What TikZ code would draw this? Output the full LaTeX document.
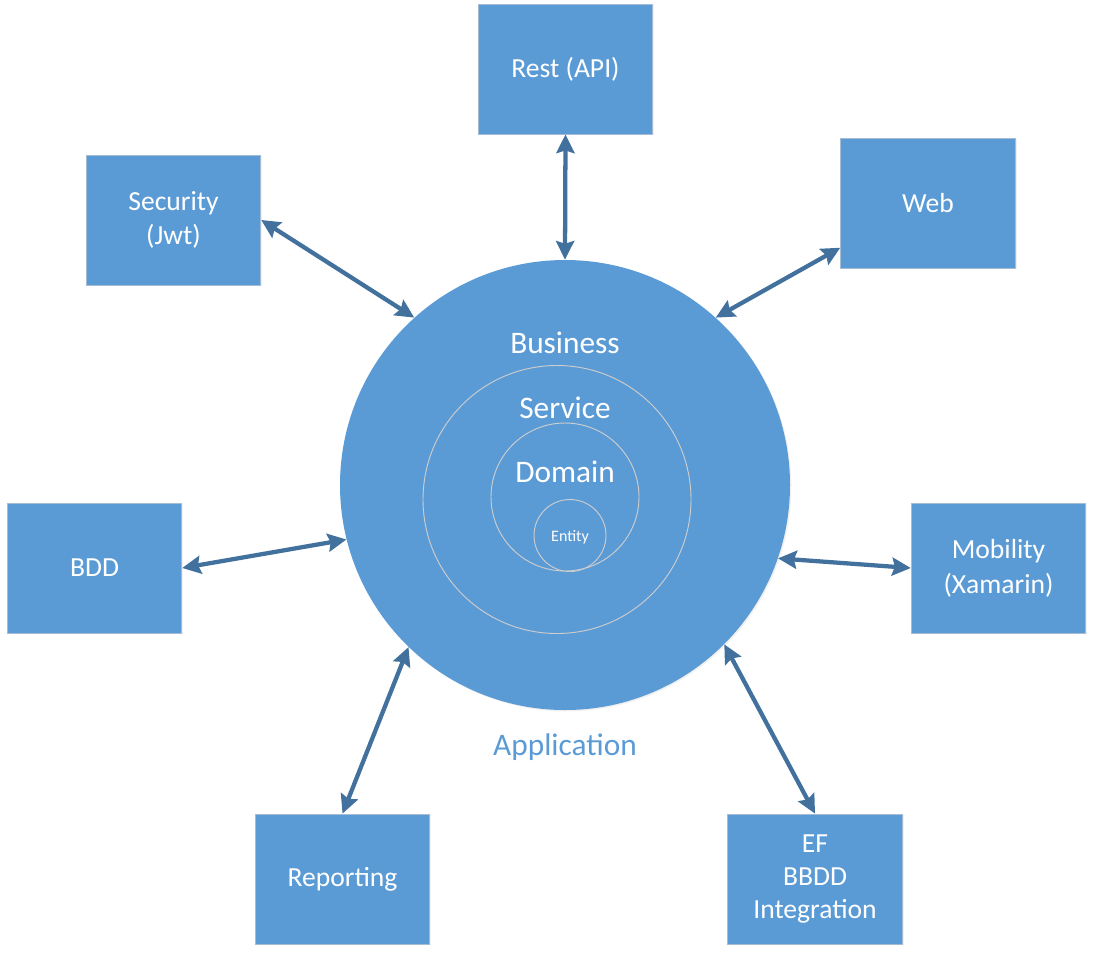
\documentclass[tikz,border=0pt]{standalone}
\usepackage{fontspec}
\setmainfont{Carlito}
\definecolor{boxblue}{RGB}{91,155,213}
\definecolor{arrowblue}{RGB}{65,113,156}
\definecolor{ringgray}{RGB}{205,205,205}
\definecolor{edgeblue}{RGB}{165,188,214}
\usetikzlibrary{arrows.meta,shadows}

\begin{document}
\begin{tikzpicture}[x=0.75pt,y=-0.75pt,
  modbox/.style={draw=edgeblue,line width=0.6pt,fill=boxblue,
                 minimum width=131pt,minimum height=97.5pt,inner sep=0pt,
                 font=\fontsize{20.7}{26}\selectfont,text=white,align=center,
                 drop shadow={opacity=0.12,shadow xshift=1pt,shadow yshift=-1pt}},
  ring/.style={circle,draw=ringgray,line width=0.7pt,inner sep=0pt},
  layer/.style={font=\fontsize{23.5}{28}\selectfont,text=white,anchor=base},
  link/.style={draw=arrowblue,line width=3.2pt,
               {Stealth[length=14pt,width=13.5pt,inset=2pt]}-{Stealth[length=14pt,width=13.5pt,inset=2pt]}}
]
  \useasboundingbox (0,0) rectangle (1095,957);

  % application core
  \node[circle,fill=boxblue,minimum size=337.5pt,inner sep=0pt,
        drop shadow={opacity=0.12,shadow xshift=1pt,shadow yshift=-1pt}] (app) at (565,485) {};
  \node[ring,minimum size=201pt] (service) at (557,499.5) {};
  \node[ring,minimum size=111pt] (domain) at (565,497) {};
  \node[ring,minimum size=54pt] (entity) at (570,535.5) {};
  \node[layer] (businesslbl) at (565,353) {Business};
  \node[layer] (servicelbl) at (565,418) {Service};
  \node[layer] (domainlbl) at (565,482) {Domain};
  \node[layer,font=\fontsize{12}{14}\selectfont] (entitylbl) at (570,541) {Entity};
  \node[font=\fontsize{23.5}{28}\selectfont,text=boxblue,anchor=base] (applbl) at (565,755) {Application};

  % modules
  \node[modbox] (rest) at (565.5,69) {Rest (API)};
  \node[modbox] (security) at (173.5,220) {Security\\(Jwt)};
  \node[modbox] (web) at (928,203) {Web};
  \node[modbox] (bdd) at (94.5,568) {BDD};
  \node[modbox] (mobility) at (998.5,568) {Mobility\\(Xamarin)};
  \node[modbox] (reporting) at (342.5,879) {Reporting};
  \node[modbox,font=\fontsize{20.7}{24.5}\selectfont] (ef) at (815,879) {EF\\BBDD\\Integration};

  \draw[link] (rest.south) -- (app.90);
  \draw[link] (security.east) -- (app.132);
  \draw[link] (web.207) -- (app.48);
  \draw[link] (bdd.east) -- (app.194);
  \draw[link] (mobility.west) -- (app.-19);
  \draw[link] (reporting.north) -- (app.226);
  \draw[link] (ef.north) -- (app.-45);
\end{tikzpicture}
\end{document}
